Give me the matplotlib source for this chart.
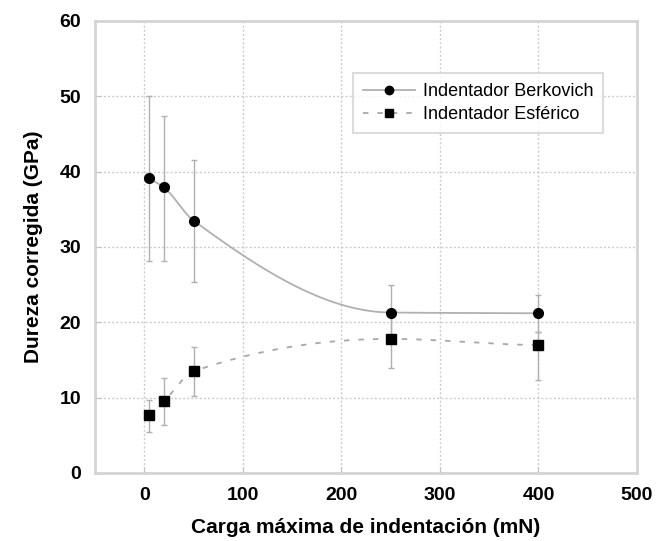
import numpy as np
import matplotlib
matplotlib.use("Agg")
import matplotlib.pyplot as plt

# data
carga = [5, 20, 50, 250, 400]
berkovich = [39.1, 37.9, 33.5, 21.3, 21.2]
berk_err_up = [11.0, 9.5, 8.0, 3.6, 2.4]
berk_err_down = [10.9, 9.7, 8.1, 3.3, 2.5]
esferico = [7.7, 9.5, 13.5, 17.8, 17.0]
esf_err_up = [2.0, 3.1, 3.2, 3.3, 1.7]
esf_err_down = [2.3, 3.1, 3.3, 3.8, 4.7]

labels = ["Indentador Berkovich", "Indentador Esférico"]


def pchip(x, y, xs):
    # monotone cubic curve through the points, only used to draw the trend line
    x = np.asarray(x, float)
    y = np.asarray(y, float)
    h = np.diff(x)
    d = np.diff(y) / h
    m = np.zeros_like(y)
    for k in range(1, len(x) - 1):
        if d[k - 1] * d[k] > 0:
            w1 = 2 * h[k] + h[k - 1]
            w2 = h[k] + 2 * h[k - 1]
            m[k] = (w1 + w2) / (w1 / d[k - 1] + w2 / d[k])
    m[0] = d[0]
    m[-1] = d[-1] if d[-1] * d[-2] > 0 else 0.0
    out = np.empty_like(xs)
    for i, xv in enumerate(xs):
        k = min(np.searchsorted(x, xv) - 1, len(x) - 2)
        k = max(k, 0)
        t = (xv - x[k]) / h[k]
        h00 = 2 * t**3 - 3 * t**2 + 1
        h10 = t**3 - 2 * t**2 + t
        h01 = -2 * t**3 + 3 * t**2
        h11 = t**3 - t**2
        out[i] = h00 * y[k] + h10 * h[k] * m[k] + h01 * y[k + 1] + h11 * h[k] * m[k + 1]
    return out


plt.rcParams['font.family'] = ['Liberation Sans', 'DejaVu Sans']

fig = plt.figure(figsize=(6.57, 5.41), dpi=100)
ax = fig.add_axes([0.1446, 0.1257, 0.825, 0.8355])

xs = np.linspace(carga[0], carga[-1], 300)

ax.plot(xs, pchip(carga, berkovich, xs), color='#b0b0b0', lw=1.3, zorder=2)
ax.plot(xs, pchip(carga, esferico, xs), color='#a8a8a8', lw=1.3,
        linestyle=(0, (3, 5)), zorder=2)

ax.errorbar(carga, berkovich, yerr=[berk_err_down, berk_err_up], fmt='none',
            ecolor='#b0b0b0', elinewidth=1, capsize=2.5, zorder=3)
ax.errorbar(carga, esferico, yerr=[esf_err_down, esf_err_up], fmt='none',
            ecolor='#b0b0b0', elinewidth=1, capsize=2.5, zorder=3)

ax.plot(carga, berkovich, 'o', color='black', ms=7, zorder=4)
ax.plot(carga, esferico, 's', color='black', ms=7, zorder=4)

# legend handles: line with marker in the middle
h1, = ax.plot([], [], color='#b0b0b0', lw=1.3, marker='o', mfc='black',
              mec='black', ms=6)
h2, = ax.plot([], [], color='#a8a8a8', lw=1.3, linestyle=(0, (3, 5)),
              marker='s', mfc='black', mec='black', ms=6)
leg = ax.legend([h1, h2], labels, loc='upper left',
                bbox_to_anchor=(0.476, 0.885), fontsize=13, frameon=True,
                fancybox=False, handlelength=2.9, borderpad=0.55,
                labelspacing=0.35, handletextpad=0.4, borderaxespad=0)
leg.get_frame().set_edgecolor('#d4d4d4')
leg.get_frame().set_linewidth(1.5)

ax.set_xlim(-50, 500)
ax.set_ylim(0, 60)
ax.set_xticks(np.arange(0, 501, 100))
ax.set_yticks(np.arange(0, 61, 10))
ax.grid(True, color='#cccccc', linestyle=(0, (1.5, 1.5)), linewidth=1)
ax.set_axisbelow(True)

for s in ax.spines.values():
    s.set_color('#d4d4d4')
    s.set_linewidth(2)
ax.tick_params(direction='in', length=4, color='#c0c0c0', labelsize=14,
               pad=10)
for t in ax.get_xticklabels() + ax.get_yticklabels():
    t.set_fontweight('bold')

ax.set_xlabel("Carga máxima de indentación (mN)", fontsize=15,
              fontweight='bold', labelpad=10)
ax.set_ylabel("Dureza corregida (GPa)", fontsize=15, fontweight='bold',
              labelpad=12)

fig.savefig("out.png", dpi=100)
